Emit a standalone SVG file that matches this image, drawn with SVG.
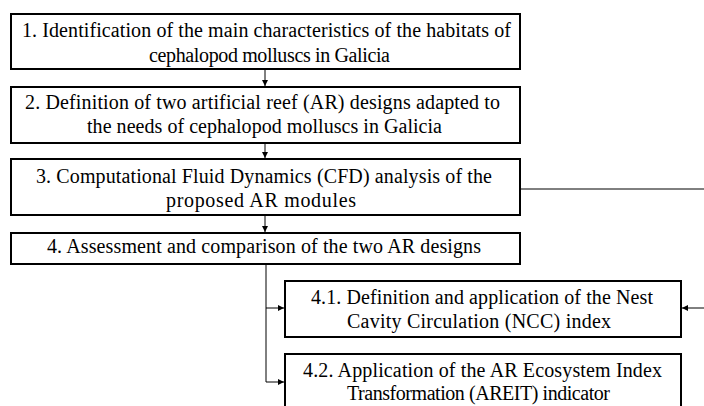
<svg xmlns="http://www.w3.org/2000/svg" width="704" height="406" viewBox="0 0 704 406">
<style>
.box{fill:#fff;stroke:#000;stroke-width:2}
.t{font-family:"Liberation Serif","Times New Roman",serif;font-size:20px;fill:#000;text-anchor:middle}
.c{fill:none;stroke:#000;stroke-width:1}
</style>
<defs>
<marker id="ah" viewBox="0 0 6 6" refX="6" refY="3" markerWidth="6" markerHeight="6" markerUnits="userSpaceOnUse" orient="auto">
<path d="M0,0 L6,3 L0,6 z" fill="#000"/>
</marker>
</defs>
<g id="connectors">
<line class="c" x1="265" y1="70" x2="265" y2="86" marker-end="url(#ah)"/>
<line class="c" x1="265" y1="144" x2="265" y2="158" marker-end="url(#ah)"/>
<line class="c" x1="265" y1="216" x2="265" y2="232" marker-end="url(#ah)"/>
<polyline class="c" points="266,265 266,382"/>
<line class="c" x1="266" y1="308" x2="284" y2="308" marker-end="url(#ah)"/>
<line class="c" x1="266" y1="382" x2="284" y2="382" marker-end="url(#ah)"/>
<line class="c" x1="521" y1="189" x2="704" y2="189"/>
<line class="c" x1="704" y1="308" x2="682" y2="308" marker-end="url(#ah)"/>
</g>
<g id="n1">
<rect class="box" x="11" y="14" width="509" height="55"/>
<text class="t" x="266.5" y="37" textLength="489" lengthAdjust="spacing">1. Identification of the main characteristics of the habitats of</text>
<text class="t" x="269.5" y="61.5" textLength="241" lengthAdjust="spacing">cephalopod molluscs in Galicia</text>
</g>
<g id="n2">
<rect class="box" x="11" y="87" width="509" height="56"/>
<text class="t" x="262.5" y="109" textLength="475" lengthAdjust="spacing">2. Definition of two artificial reef (AR) designs adapted to</text>
<text class="t" x="264.5" y="133" textLength="355" lengthAdjust="spacing">the needs of cephalopod molluscs in Galicia</text>
</g>
<g id="n3">
<rect class="box" x="11" y="159" width="509" height="56"/>
<text class="t" x="264" y="183" textLength="456" lengthAdjust="spacing">3. Computational Fluid Dynamics (CFD) analysis of the</text>
<text class="t" x="261" y="207" textLength="190" lengthAdjust="spacing">proposed AR modules</text>
</g>
<g id="n4">
<rect class="box" x="11" y="233" width="509" height="31"/>
<text class="t" x="264" y="253" textLength="434" lengthAdjust="spacing">4. Assessment and comparison of the two AR designs</text>
</g>
<g id="n41">
<rect class="box" x="285" y="281" width="396" height="56"/>
<text class="t" x="482" y="304" textLength="342" lengthAdjust="spacing">4.1. Definition and application of the Nest</text>
<text class="t" x="479" y="328" textLength="264" lengthAdjust="spacing">Cavity Circulation (NCC) index</text>
</g>
<g id="n42">
<rect class="box" x="285" y="354" width="396" height="60"/>
<text class="t" x="482.5" y="377" textLength="359" lengthAdjust="spacing">4.2. Application of the AR Ecosystem Index</text>
<text class="t" x="478.5" y="400" textLength="263" lengthAdjust="spacing">Transformation (AREIT) indicator</text>
</g>
</svg>
